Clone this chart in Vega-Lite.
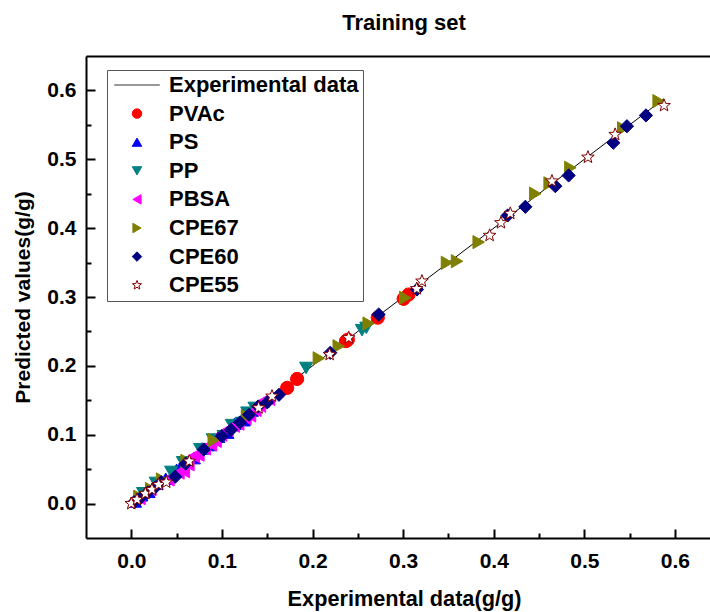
{
  "$schema": "https://vega.github.io/schema/vega-lite/v6.json",
  "autosize": {"type": "none"},
  "padding": {"left": 86, "top": 56, "right": 0, "bottom": 74},
  "width": 624,
  "height": 482,
  "title": {"text": "Training set", "anchor": "middle", "offset": 4, "baseline": "alphabetic", "dx": 6, "font": "Liberation Sans", "fontSize": 22, "fontWeight": "bold", "color": "black"},
  "data": {"values": [
    {"series": "Experimental data", "experimental": 0, "predicted": 0},
    {"series": "Experimental data", "experimental": 0.0155, "predicted": 0.0155},
    {"series": "Experimental data", "experimental": 0.0302, "predicted": 0.0302},
    {"series": "Experimental data", "experimental": 0.064, "predicted": 0.064},
    {"series": "Experimental data", "experimental": 0.1405, "predicted": 0.1405},
    {"series": "Experimental data", "experimental": 0.1553, "predicted": 0.1553},
    {"series": "Experimental data", "experimental": 0.2189, "predicted": 0.2189},
    {"series": "Experimental data", "experimental": 0.24, "predicted": 0.24},
    {"series": "Experimental data", "experimental": 0.315, "predicted": 0.315},
    {"series": "Experimental data", "experimental": 0.3955, "predicted": 0.3955},
    {"series": "Experimental data", "experimental": 0.4183, "predicted": 0.4183},
    {"series": "Experimental data", "experimental": 0.504, "predicted": 0.504},
    {"series": "Experimental data", "experimental": 0.588, "predicted": 0.588},

    {"series": "PVAc", "experimental": 0.172, "predicted": 0.168},
    {"series": "PVAc", "experimental": 0.183, "predicted": 0.181},
    {"series": "PVAc", "experimental": 0.237, "predicted": 0.236},
    {"series": "PVAc", "experimental": 0.239, "predicted": 0.238},
    {"series": "PVAc", "experimental": 0.272, "predicted": 0.27},
    {"series": "PVAc", "experimental": 0.3006, "predicted": 0.2974},
    {"series": "PVAc", "experimental": 0.306, "predicted": 0.3036},

    {"series": "PS", "experimental": 0.004, "predicted": 0.003},
    {"series": "PS", "experimental": 0.011, "predicted": 0.012},
    {"series": "PS", "experimental": 0.019, "predicted": 0.017},
    {"series": "PS", "experimental": 0.028, "predicted": 0.029},
    {"series": "PS", "experimental": 0.038, "predicted": 0.036},
    {"series": "PS", "experimental": 0.05, "predicted": 0.049},
    {"series": "PS", "experimental": 0.058, "predicted": 0.061},
    {"series": "PS", "experimental": 0.069, "predicted": 0.066},
    {"series": "PS", "experimental": 0.078, "predicted": 0.08},
    {"series": "PS", "experimental": 0.087, "predicted": 0.085},
    {"series": "PS", "experimental": 0.096, "predicted": 0.097},
    {"series": "PS", "experimental": 0.106, "predicted": 0.103},
    {"series": "PS", "experimental": 0.114, "predicted": 0.116},
    {"series": "PS", "experimental": 0.124, "predicted": 0.121},
    {"series": "PS", "experimental": 0.133, "predicted": 0.135},

    {"series": "PP", "experimental": 0.013, "predicted": 0.015},
    {"series": "PP", "experimental": 0.027, "predicted": 0.03},
    {"series": "PP", "experimental": 0.044, "predicted": 0.046},
    {"series": "PP", "experimental": 0.057, "predicted": 0.06},
    {"series": "PP", "experimental": 0.076, "predicted": 0.079},
    {"series": "PP", "experimental": 0.09, "predicted": 0.093},
    {"series": "PP", "experimental": 0.102, "predicted": 0.098},
    {"series": "PP", "experimental": 0.111, "predicted": 0.114},
    {"series": "PP", "experimental": 0.122, "predicted": 0.117},
    {"series": "PP", "experimental": 0.128, "predicted": 0.132},
    {"series": "PP", "experimental": 0.136, "predicted": 0.139},
    {"series": "PP", "experimental": 0.193, "predicted": 0.197},
    {"series": "PP", "experimental": 0.2546, "predicted": 0.2518},
    {"series": "PP", "experimental": 0.2594, "predicted": 0.2552},

    {"series": "PBSA", "experimental": 0.009, "predicted": 0.008},
    {"series": "PBSA", "experimental": 0.021, "predicted": 0.021},
    {"series": "PBSA", "experimental": 0.041, "predicted": 0.035},
    {"series": "PBSA", "experimental": 0.052, "predicted": 0.045},
    {"series": "PBSA", "experimental": 0.058, "predicted": 0.047},
    {"series": "PBSA", "experimental": 0.063, "predicted": 0.057},
    {"series": "PBSA", "experimental": 0.069, "predicted": 0.069},
    {"series": "PBSA", "experimental": 0.074, "predicted": 0.071},
    {"series": "PBSA", "experimental": 0.081, "predicted": 0.08},
    {"series": "PBSA", "experimental": 0.088, "predicted": 0.086},
    {"series": "PBSA", "experimental": 0.093, "predicted": 0.091},
    {"series": "PBSA", "experimental": 0.099, "predicted": 0.1},
    {"series": "PBSA", "experimental": 0.106, "predicted": 0.107},
    {"series": "PBSA", "experimental": 0.113, "predicted": 0.113},
    {"series": "PBSA", "experimental": 0.118, "predicted": 0.116},
    {"series": "PBSA", "experimental": 0.126, "predicted": 0.124},
    {"series": "PBSA", "experimental": 0.131, "predicted": 0.128},
    {"series": "PBSA", "experimental": 0.137, "predicted": 0.136},
    {"series": "PBSA", "experimental": 0.142, "predicted": 0.142},
    {"series": "PBSA", "experimental": 0.146, "predicted": 0.149},
    {"series": "PBSA", "experimental": 0.152, "predicted": 0.152},

    {"series": "CPE67", "experimental": 0.009, "predicted": 0.01},
    {"series": "CPE67", "experimental": 0.022, "predicted": 0.021},
    {"series": "CPE67", "experimental": 0.034, "predicted": 0.035},
    {"series": "CPE67", "experimental": 0.061, "predicted": 0.062},
    {"series": "CPE67", "experimental": 0.091, "predicted": 0.092},
    {"series": "CPE67", "experimental": 0.1277, "predicted": 0.1269},
    {"series": "CPE67", "experimental": 0.207, "predicted": 0.211},
    {"series": "CPE67", "experimental": 0.2289, "predicted": 0.2285},
    {"series": "CPE67", "experimental": 0.262, "predicted": 0.2615},
    {"series": "CPE67", "experimental": 0.3024, "predicted": 0.2988},
    {"series": "CPE67", "experimental": 0.3484, "predicted": 0.3497},
    {"series": "CPE67", "experimental": 0.3595, "predicted": 0.352},
    {"series": "CPE67", "experimental": 0.3834, "predicted": 0.3797},
    {"series": "CPE67", "experimental": 0.4459, "predicted": 0.45},
    {"series": "CPE67", "experimental": 0.4617, "predicted": 0.465},
    {"series": "CPE67", "experimental": 0.4846, "predicted": 0.4877},
    {"series": "CPE67", "experimental": 0.543, "predicted": 0.545},
    {"series": "CPE67", "experimental": 0.582, "predicted": 0.5845},

    {"series": "CPE60", "experimental": 0.003, "predicted": 0.002},
    {"series": "CPE60", "experimental": 0.01, "predicted": 0.008},
    {"series": "CPE60", "experimental": 0.018, "predicted": 0.016},
    {"series": "CPE60", "experimental": 0.026, "predicted": 0.023},
    {"series": "CPE60", "experimental": 0.033, "predicted": 0.031},
    {"series": "CPE60", "experimental": 0.0486, "predicted": 0.039},
    {"series": "CPE60", "experimental": 0.06, "predicted": 0.058},
    {"series": "CPE60", "experimental": 0.08, "predicted": 0.0785},
    {"series": "CPE60", "experimental": 0.1, "predicted": 0.098},
    {"series": "CPE60", "experimental": 0.11, "predicted": 0.107},
    {"series": "CPE60", "experimental": 0.12, "predicted": 0.118},
    {"series": "CPE60", "experimental": 0.13, "predicted": 0.129},
    {"series": "CPE60", "experimental": 0.14, "predicted": 0.141},
    {"series": "CPE60", "experimental": 0.15, "predicted": 0.147},
    {"series": "CPE60", "experimental": 0.163, "predicted": 0.158},
    {"series": "CPE60", "experimental": 0.2196, "predicted": 0.219},
    {"series": "CPE60", "experimental": 0.273, "predicted": 0.2746},
    {"series": "CPE60", "experimental": 0.3153, "predicted": 0.3109},
    {"series": "CPE60", "experimental": 0.4154, "predicted": 0.4184},
    {"series": "CPE60", "experimental": 0.4349, "predicted": 0.431},
    {"series": "CPE60", "experimental": 0.468, "predicted": 0.461},
    {"series": "CPE60", "experimental": 0.4827, "predicted": 0.4765},
    {"series": "CPE60", "experimental": 0.532, "predicted": 0.524},
    {"series": "CPE60", "experimental": 0.547, "predicted": 0.548},
    {"series": "CPE60", "experimental": 0.568, "predicted": 0.5637},

    {"series": "CPE55", "experimental": 0, "predicted": 0},
    {"series": "CPE55", "experimental": 0.0063, "predicted": 0.0058},
    {"series": "CPE55", "experimental": 0.0155, "predicted": 0.0145},
    {"series": "CPE55", "experimental": 0.0228, "predicted": 0.0203},
    {"series": "CPE55", "experimental": 0.0302, "predicted": 0.0276},
    {"series": "CPE55", "experimental": 0.0386, "predicted": 0.031},
    {"series": "CPE55", "experimental": 0.064, "predicted": 0.0615},
    {"series": "CPE55", "experimental": 0.1405, "predicted": 0.139},
    {"series": "CPE55", "experimental": 0.1553, "predicted": 0.1559},
    {"series": "CPE55", "experimental": 0.2189, "predicted": 0.2165},
    {"series": "CPE55", "experimental": 0.24, "predicted": 0.2407},
    {"series": "CPE55", "experimental": 0.315, "predicted": 0.312},
    {"series": "CPE55", "experimental": 0.3208, "predicted": 0.323},
    {"series": "CPE55", "experimental": 0.3955, "predicted": 0.3894},
    {"series": "CPE55", "experimental": 0.408, "predicted": 0.4078},
    {"series": "CPE55", "experimental": 0.4183, "predicted": 0.4213},
    {"series": "CPE55", "experimental": 0.4643, "predicted": 0.4683},
    {"series": "CPE55", "experimental": 0.504, "predicted": 0.503},
    {"series": "CPE55", "experimental": 0.534, "predicted": 0.536},
    {"series": "CPE55", "experimental": 0.588, "predicted": 0.578}
  ]},
  "layer": [
    {
      "transform": [{"filter": "datum.series === 'Experimental data'"}],
      "mark": {"type": "line", "color": "black", "strokeWidth": 1, "clip": true},
      "encoding": {
        "x": {
          "field": "experimental", "type": "quantitative",
          "scale": {"domain": [-0.05, 0.6387], "nice": false, "zero": false},
          "axis": {
            "orient": "bottom",
            "values": [0, 0.05, 0.1, 0.15, 0.2, 0.25, 0.3, 0.35, 0.4, 0.45, 0.5, 0.55, 0.6],
            "labelExpr": "round(datum.value * 20) % 2 === 0 ? format(datum.value, '.1f') : ''",
            "tickSize": {"condition": {"test": "round(datum.value * 20) % 2 === 0", "value": -9}, "value": -5},
            "labelPadding": 38,
            "labelBaseline": "alphabetic",
            "title": "Experimental data(g/g)",
            "titleFontSize": 21.7,
            "titlePadding": 13,
            "titleX": 318
          }
        },
        "y": {
          "field": "predicted", "type": "quantitative",
          "scale": {"domain": [-0.05, 0.65], "nice": false, "zero": false},
          "axis": {
            "orient": "left",
            "values": [0, 0.05, 0.1, 0.15, 0.2, 0.25, 0.3, 0.35, 0.4, 0.45, 0.5, 0.55, 0.6],
            "labelExpr": "round(datum.value * 20) % 2 === 0 ? format(datum.value, '.1f') : ''",
            "tickSize": {"condition": {"test": "round(datum.value * 20) % 2 === 0", "value": -9}, "value": -5},
            "labelPadding": 19,
            "title": "Predicted values(g/g)",
            "titlePadding": 13
          }
        }
      }
    },
    {
      "mark": {"type": "point", "filled": true, "size": 175, "strokeWidth": 1, "clip": true},
      "encoding": {
        "x": {
          "field": "experimental", "type": "quantitative",
          "axis": {"orient": "top", "ticks": false, "labels": false, "title": null}
        },
        "y": {"field": "predicted", "type": "quantitative", "axis": null},
        "fill": {
          "field": "series", "type": "nominal",
          "scale": {
            "domain": ["Experimental data", "PVAc", "PS", "PP", "PBSA", "CPE67", "CPE60", "CPE55"],
            "range": ["#333333", "#ff0000", "#0000ff", "#008080", "#ff00ff", "#808000", "#000080", "#ffffff"]
          },
          "legend": {
            "title": null,
            "orient": "none",
            "legendX": 21,
            "legendY": 14,
            "padding": 4,
            "rowPadding": 6.6,
            "symbolSize": 90,
            "symbolStrokeWidth": 1,
            "symbolOffset": 15,
            "labelOffset": 21,
            "labelLimit": 0,
            "labelFont": "Liberation Sans",
            "labelFontSize": 22,
            "labelFontWeight": "bold",
            "labelColor": "black",
            "strokeColor": "#555555",
            "fillColor": "white"
          }
        },
        "stroke": {
          "field": "series", "type": "nominal",
          "scale": {
            "domain": ["Experimental data", "PVAc", "PS", "PP", "PBSA", "CPE67", "CPE60", "CPE55"],
            "range": ["#333333", "#ff0000", "#0000ff", "#008080", "#ff00ff", "#808000", "#000080", "#800000"]
          }
        },
        "shape": {
          "field": "series", "type": "nominal",
          "scale": {
            "domain": ["Experimental data", "PVAc", "PS", "PP", "PBSA", "CPE67", "CPE60", "CPE55"],
            "range": ["M-4.8,0L4.8,0", "circle", "triangle-up", "triangle-down", "triangle-left", "triangle-right", "diamond", "M0,-1L0.247,-0.34L0.951,-0.309L0.399,0.13L0.588,0.809L0,0.42L-0.588,0.809L-0.399,0.13L-0.951,-0.309L-0.247,-0.34Z"]
          }
        },
        "opacity": {
          "condition": {"test": "datum.series === 'Experimental data'", "value": 0},
          "value": 1
        }
      }
    }
  ],
  "resolve": {"axis": {"x": "independent", "y": "independent"}},
  "config": {
    "view": {"stroke": null},
    "font": "Liberation Sans",
    "axis": {
      "grid": false,
      "domainColor": "black",
      "domainWidth": 2,
      "tickColor": "black",
      "tickWidth": 2,
      "labelFont": "Liberation Sans",
      "labelFontSize": 21,
      "labelFontWeight": "bold",
      "labelColor": "black",
      "labelFlush": false,
      "labelOverlap": false,
      "titleFont": "Liberation Sans",
      "titleFontSize": 21,
      "titleFontWeight": "bold",
      "titleColor": "black"
    }
  }
}
